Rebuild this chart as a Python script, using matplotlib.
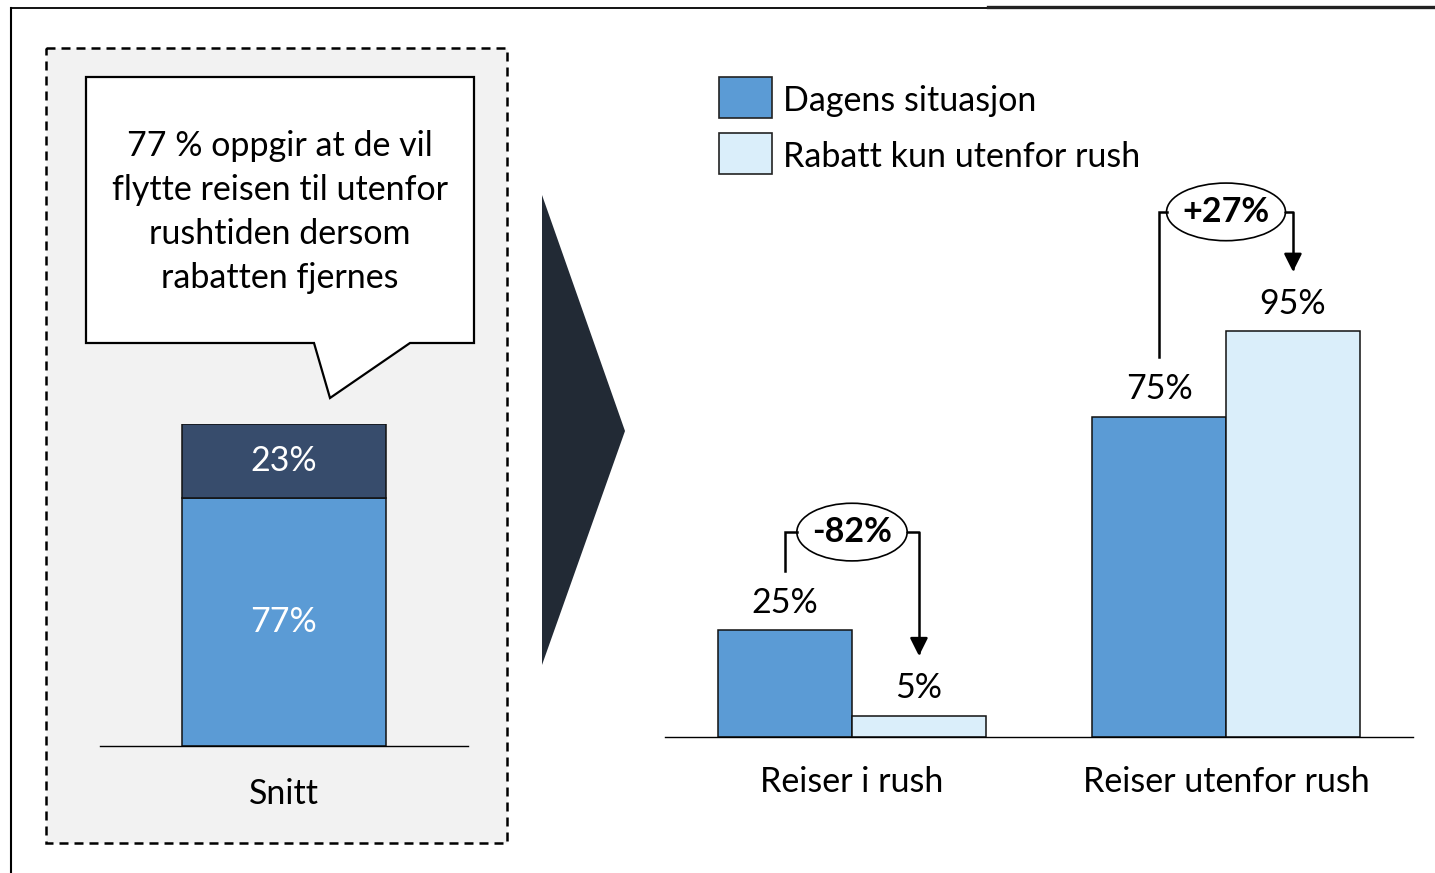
import numpy as np
import matplotlib
matplotlib.use("Agg")
import matplotlib.pyplot as plt
from matplotlib.patches import Rectangle, Polygon, Ellipse

plt.rcParams['font.family'] = ['Lato', 'DejaVu Sans']

# data
groups = ["Reiser i rush", "Reiser utenfor rush"]
series_names = ["Dagens situasjon", "Rabatt kun utenfor rush"]
dagens = [25, 75]
rabatt = [5, 95]
changes = ["-82%", "+27%"]

snitt_label = ["Snitt"]
snitt_moved = [77]
snitt_stay = [23]
callout_text = "77 % oppgir at de vil\nflytte reisen til utenfor\nrushtiden dersom\nrabatten fjernes"

# colours
c_blue = "#5B9BD5"
c_light = "#DAEEFA"
c_dark = "#374C6C"
c_chevron = "#222A35"
c_panel = "#F2F2F2"

FS = 24.5
W, H = 1435, 873
fig = plt.figure(figsize=(W / 100, H / 100), dpi=100)


def px_axes(x0, x1, y0, y1):
    """axes from pixel box (y measured from top)"""
    return fig.add_axes([x0 / W, 1 - y1 / H, (x1 - x0) / W, (y1 - y0) / H])


# background layer in pixel coords
bg = px_axes(0, W, 0, H)
bg.set_xlim(0, W)
bg.set_ylim(H, 0)
bg.axis("off")

# frame lines
bg.plot([11, 11], [8, H], color="black", lw=1.5)
bg.plot([11, 988], [8, 8], color="black", lw=1.3)
bg.plot([988, W], [7, 7], color="#222222", lw=2.4)

# dashed panel on the left
bg.add_patch(Rectangle((46, 48), 461, 795, facecolor=c_panel, edgecolor="black",
                       lw=1.8, linestyle=(0, (3.6, 2.4))))

# speech bubble
bubble = [(86, 77), (474, 77), (474, 343), (410, 343), (330, 398), (314, 343), (86, 343)]
bg.add_patch(Polygon(bubble, closed=True, facecolor="white", edgecolor="black", lw=1.6))
bg.text(280, 212, callout_text, ha="center", va="center", fontsize=FS,
        linespacing=1.45)

# chevron
bg.add_patch(Polygon([(542, 195), (625, 431), (542, 665)], closed=True,
                     facecolor=c_chevron, edgecolor="none"))

# legend (manual)
for i, (name, col) in enumerate(zip(series_names, [c_blue, c_light])):
    y = 77 + i * 56
    bg.add_patch(Rectangle((719, y), 53, 41, facecolor=col, edgecolor="#222222", lw=1.2))
    bg.text(783, y + 24, name, ha="left", va="center", fontsize=FS)

# left stacked bar
axl = px_axes(100, 468, 424, 746)
axl.patch.set_visible(False)
axl.bar(0, snitt_moved, width=1.0, color=c_blue, edgecolor="#111111", lw=1.1)
axl.bar(0, snitt_stay, width=1.0, bottom=snitt_moved, color=c_dark,
        edgecolor="#111111", lw=1.1)
axl.text(0, snitt_moved[0] / 2, f"{snitt_moved[0]}%", ha="center", va="center",
         color="white", fontsize=FS)
axl.text(0, snitt_moved[0] + snitt_stay[0] / 2, f"{snitt_stay[0]}%", ha="center",
         va="center", color="white", fontsize=FS)
axl.set_xlim(-0.9, 0.9)
axl.set_ylim(0, 100)
for s in ["top", "right", "left"]:
    axl.spines[s].set_visible(False)
axl.spines["bottom"].set_linewidth(1.0)
axl.set_yticks([])
axl.set_xticks([0])
axl.set_xticklabels(snitt_label, fontsize=FS)
axl.tick_params(axis="x", length=0, pad=23)

# right grouped bars
axr = px_axes(665, 1413, 182, 737)
axr.patch.set_visible(False)
x = np.arange(len(groups))
w = 0.358
axr.bar(x - w / 2, dagens, width=w, color=c_blue, edgecolor="#111111", lw=1.1)
axr.bar(x + w / 2, rabatt, width=w, color=c_light, edgecolor="#111111", lw=1.1)
for xi, d, r in zip(x, dagens, rabatt):
    axr.text(xi - w / 2, d + 6.5, f"{d}%", ha="center", va="center", fontsize=FS)
    axr.text(xi + w / 2, r + 6.5, f"{r}%", ha="center", va="center", fontsize=FS)
axr.set_xlim(-0.5, 1.5)
axr.set_ylim(0, 130)
for s in ["top", "right", "left"]:
    axr.spines[s].set_visible(False)
axr.spines["bottom"].set_linewidth(1.0)
axr.set_yticks([])
axr.set_xticks(x)
axr.set_xticklabels(groups, fontsize=FS)
axr.tick_params(axis="x", length=0, pad=21)

# change brackets
bracket_top = [48, 123]
ell_w = [0.295, 0.318]
for xi, d, r, lab, top, ew in zip(x, dagens, rabatt, changes, bracket_top, ell_w):
    xl, xr = xi - w / 2, xi + w / 2
    axr.plot([xl, xl, xi - ew / 2], [d + 14, top, top], color="black", lw=1.8,
             solid_joinstyle="miter")
    axr.add_patch(Ellipse((xi, top), ew, 13.5, facecolor="white", edgecolor="black",
                          lw=1.2))
    axr.text(xi, top, lab, ha="center", va="center", fontsize=FS, fontweight="bold")
    axr.annotate("", xy=(xr, r + 14), xytext=(xi + ew / 2, top),
                 arrowprops=dict(arrowstyle="-|>,head_length=1.08,head_width=0.54",
                                 mutation_scale=10, lw=1.8, color="black",
                                 connectionstyle="angle,angleA=0,angleB=90,rad=0",
                                 shrinkA=0, shrinkB=0))

fig.savefig("out.png", dpi=100)
